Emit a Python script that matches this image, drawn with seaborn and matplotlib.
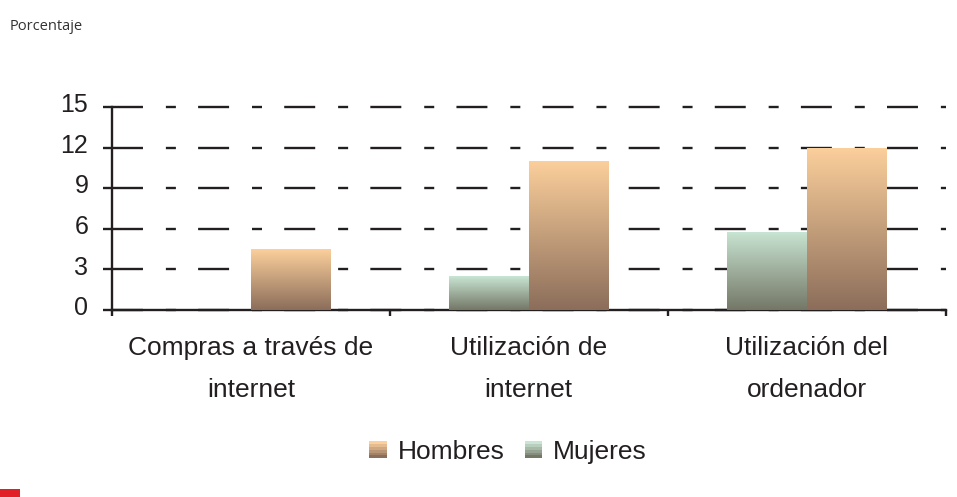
import numpy as np
import pandas as pd
import seaborn as sns
import matplotlib.pyplot as plt
import matplotlib.transforms as mtransforms
from matplotlib.colors import LinearSegmentedColormap, to_rgb
from matplotlib.patches import Rectangle
from matplotlib.legend_handler import HandlerBase

# datos
categorias = ["Compras a través de\ninternet", "Utilización de\ninternet", "Utilización del\nordenador"]
hombres = [4.5, 11.0, 12.0]
mujeres = [0.0, 2.5, 5.8]
yticks = [0, 3, 6, 9, 12, 15]

colores = {"Hombres": ("#fcd09c", "#8b6d5a"), "Mujeres": ("#c9e5d3", "#747766")}
orden = ["Mujeres", "Hombres"]

df = pd.DataFrame({
    "categoria": categorias * 2,
    "sexo": ["Mujeres"] * 3 + ["Hombres"] * 3,
    "valor": mujeres + hombres,
})

sns.set_style("white")
plt.rcParams["font.family"] = ["Liberation Sans", "DejaVu Sans"]
plt.rcParams["lines.scale_dashes"] = False
negro = "#231f20"

fig = plt.figure(figsize=(9.57, 4.97), dpi=100)
ax = fig.add_axes([0.117, 0.376, 0.871, 0.409])

sns.barplot(data=df, x="categoria", y="valor", hue="sexo", hue_order=orden,
            palette={k: v[1] for k, v in colores.items()}, saturation=1,
            width=0.575, linewidth=0, legend=False, ax=ax, zorder=3)

# degradado vertical en cada barra
grad = np.linspace(1, 0, 256)[:, None]
for sexo, cont in zip(orden, ax.containers):
    cmap = LinearSegmentedColormap.from_list(sexo, [colores[sexo][1], colores[sexo][0]])
    for bar in cont:
        x, y, w, h = bar.get_x(), bar.get_y(), bar.get_width(), bar.get_height()
        if h <= 0:
            continue
        im = ax.imshow(grad, cmap=cmap, extent=[x, x + w, y, y + h], aspect="auto",
                       origin="upper", zorder=4, interpolation="bilinear")
        im.set_clip_path(bar)

ax.set_xlim(-0.5, 2.5)
ax.set_ylim(0, 15)
ax.set_yticks(yticks)
ax.set_xticks([-0.5, 0.5, 1.5, 2.5])
ax.set_xticklabels([])
ax.set_xticks(range(3), minor=True)
ax.set_xticklabels(categorias, minor=True, fontsize=19, color=negro, linespacing=1.95)
ax.set_xlabel("")
ax.set_ylabel("")

ax.yaxis.grid(True, color=negro, linewidth=1.7, linestyle=(0, (22.3, 16.5, 7.2, 16)))
ax.xaxis.grid(False)
for ln in ax.get_ygridlines():
    ln.set_clip_on(False)
ax.set_axisbelow(True)

for s in ["top", "right"]:
    ax.spines[s].set_visible(False)
for s in ["left", "bottom"]:
    ax.spines[s].set_color(negro)
    ax.spines[s].set_linewidth(1.7)

ax.tick_params(axis="y", which="major", direction="out", length=6.5, width=1.7,
               color=negro, labelsize=18, labelcolor=negro, pad=10.5, left=True)
ax.tick_params(axis="x", which="major", direction="out", length=4.5, width=1.7,
               color=negro, bottom=True)
ax.tick_params(axis="x", which="minor", length=0, pad=18.5, bottom=True)

desplaza = mtransforms.ScaledTranslation(0, 3 / 72, fig.dpi_scale_trans)
for lab in ax.get_yticklabels():
    lab.set_transform(lab.get_transform() + desplaza)


class HandlerDegradado(HandlerBase):
    def create_artists(self, legend, orig_handle, xdescent, ydescent, width, height, fontsize, trans):
        top, bottom = colores[orig_handle.get_gid()]
        n = 6
        arts = []
        for i in range(n):
            t = i / (n - 1)
            c = tuple(np.array(to_rgb(bottom)) * (1 - t) + np.array(to_rgb(top)) * t)
            r = Rectangle((-xdescent, -ydescent + height * i / n), width, height / n,
                          facecolor=c, edgecolor="none", transform=trans)
            arts.append(r)
        return arts


handles = []
for sexo in ["Hombres", "Mujeres"]:
    r = Rectangle((0, 0), 1, 1)
    r.set_gid(sexo)
    handles.append(r)

fig.legend(handles, ["Hombres", "Mujeres"], handler_map={Rectangle: HandlerDegradado()},
           loc="center", bbox_to_anchor=(508 / 957, 1 - 452 / 497), ncol=2, frameon=False,
           fontsize=19, handlelength=0.65, handleheight=0.62, handletextpad=0.42,
           columnspacing=0.76, labelcolor=negro)

fig.text(10 / 957, 1 - 26 / 497, "Porcentaje", fontsize=10.5, family=["Open Sans", "DejaVu Sans"],
         color="#333333", va="center", ha="left")

fig.add_artist(Rectangle((0, 0), 20 / 957, 8 / 497, transform=fig.transFigure,
                         facecolor="#e11f26", edgecolor="none"))

fig.savefig("out.png", dpi=100)
